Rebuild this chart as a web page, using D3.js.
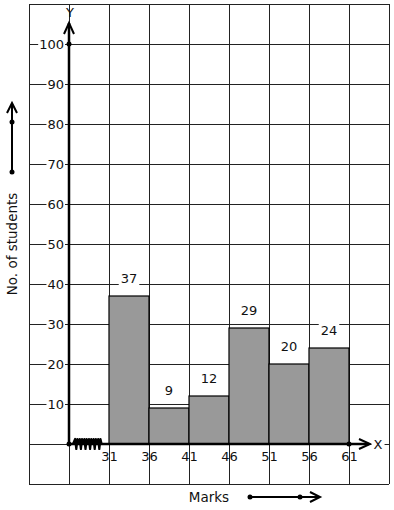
<!DOCTYPE html>
<html><head><meta charset="utf-8">
<script src="https://cdn.jsdelivr.net/npm/d3@7"></script>
<style>body{margin:0;background:#fff}svg{display:block}text{font-family:"DejaVu Sans",sans-serif}</style>
</head><body>
<script>
const classStarts = [31, 36, 41, 46, 51, 56];
const classWidth = 5;
const students = [37, 9, 12, 29, 20, 24];
const xTickValues = [31, 36, 41, 46, 51, 56, 61];
const yTickValues = [10, 20, 30, 40, 50, 60, 70, 80, 90, 100];
const xLabel = "Marks", yLabel = "No. of students";

const W = 394, H = 510;
const svg = d3.select("body").append("svg").attr("width", W).attr("height", H);
const x = d3.scaleLinear().domain([21, 66]).range([29, 389]);
const y = d3.scaleLinear().domain([-10, 110]).range([484, 4]);
const x0 = x(26), y0 = y(0);

// grid
const grid = svg.append("g").attr("stroke", "#222").attr("stroke-width", 1).attr("shape-rendering", "crispEdges");
d3.range(21, 67, 5).forEach(v => grid.append("line").attr("x1", x(v)).attr("x2", x(v)).attr("y1", y(110)).attr("y2", y(-10)));
d3.range(-10, 111, 10).forEach(v => grid.append("line").attr("x1", x(21)).attr("x2", x(66)).attr("y1", y(v)).attr("y2", y(v)));

// bars
svg.append("g").selectAll("rect").data(classStarts).join("rect")
  .attr("x", d => x(d)).attr("width", d => x(d + classWidth) - x(d))
  .attr("y", (d, i) => y(students[i])).attr("height", (d, i) => y(0) - y(students[i]))
  .attr("fill", "#999").attr("stroke", "#000").attr("stroke-width", 1.2);

// bar labels
function labelWithBg(g, tx, ty, txt, anchor, size) {
  const t = g.append("text").attr("x", tx).attr("y", ty).attr("text-anchor", anchor)
    .attr("dominant-baseline", "central").attr("font-size", size).attr("fill", "#111").text(txt);
  const b = t.node().getBBox();
  g.insert("rect", () => t.node()).attr("x", b.x - 2).attr("y", b.y).attr("width", b.width + 4).attr("height", b.height).attr("fill", "#fff");
}
const bl = svg.append("g");
classStarts.forEach((d, i) => labelWithBg(bl, x(d + classWidth / 2), y(students[i]) - 18, students[i], "middle", 13));

// y axis ticks via d3 axis
const yAxis = svg.append("g").attr("transform", `translate(${x0 - 5},0)`)
  .call(d3.axisLeft(y).tickValues(yTickValues).tickSize(0).tickPadding(0));
yAxis.select(".domain").remove();
yAxis.selectAll("text").attr("font-size", 13).attr("font-family", "DejaVu Sans").attr("fill", "#111").each(function () {
  const b = this.getBBox();
  d3.select(this.parentNode).insert("rect", "text").attr("x", b.x - 1).attr("y", b.y + 1).attr("width", b.width + 2).attr("height", b.height - 2).attr("fill", "#fff");
});

// x axis ticks via d3 axis
const xAxis = svg.append("g").attr("transform", `translate(0,${y0 + 8})`)
  .call(d3.axisBottom(x).tickValues(xTickValues).tickSize(0).tickPadding(0));
xAxis.select(".domain").remove();
xAxis.selectAll("text").attr("font-size", 13).attr("font-family", "DejaVu Sans").attr("fill", "#111");

// axes lines
const ax = svg.append("g").attr("stroke", "#000").attr("fill", "none").attr("stroke-width", 2.5);
ax.append("line").attr("x1", x0).attr("x2", x0).attr("y1", y0).attr("y2", 23);
ax.append("path").attr("d", `M${x0 - 5},34 L${x0},23 L${x0 + 5},34`).attr("stroke-width", 2);
ax.append("line").attr("x1", x0).attr("x2", 369).attr("y1", y0).attr("y2", y0);
ax.append("path").attr("d", `M359,${y0 - 5} L370,${y0} L359,${y0 + 5}`).attr("stroke-width", 2);
// zigzag
let zz = `M${x0 + 4},${y0}`;
for (let k = 0; k < 6; k++) {
  const sx = x0 + 5 + k * 4.6;
  zz += ` L${sx + 1.15},${y0 - 5} L${sx + 2.3},${y0 + 5} L${sx + 3.45},${y0 - 5} L${sx + 4.6},${y0}`;
}
ax.append("path").attr("d", zz).attr("stroke-width", 2.2).attr("stroke-linejoin", "round");
svg.append("g").selectAll("circle").data([[x0, y0], [x0, y(100)], [x(61), y0]]).join("circle")
  .attr("cx", d => d[0]).attr("cy", d => d[1]).attr("r", 2.5).attr("fill", "#000");

// axis letters
labelWithBg(svg.append("g"), 378, y0, "X", "middle", 13);
svg.append("text").attr("x", x0 + 1).attr("y", 12).attr("text-anchor", "middle").attr("dominant-baseline", "central").attr("font-size", 13).attr("fill", "#111").text("Y");

// axis titles
svg.append("text").attr("x", 209).attr("y", 497).attr("text-anchor", "middle").attr("dominant-baseline", "central").attr("font-size", 13.5).attr("fill", "#111").text(xLabel);
svg.append("text").attr("transform", "translate(12,244) rotate(-90)").attr("text-anchor", "middle").attr("dominant-baseline", "central").attr("font-size", 13.5).attr("fill", "#111").text(yLabel);

// decorative arrows
const da = svg.append("g").attr("stroke", "#000").attr("fill", "none").attr("stroke-width", 2);
da.append("line").attr("x1", 250).attr("x2", 320).attr("y1", 497).attr("y2", 497);
da.append("path").attr("d", "M310,492 L320,497 L310,502");
da.append("line").attr("x1", 12).attr("x2", 12).attr("y1", 172).attr("y2", 103);
da.append("path").attr("d", "M7,113 L12,103 L17,113");
svg.append("g").selectAll("circle").data([[250, 497], [300, 497], [12, 172], [12, 122]]).join("circle")
  .attr("cx", d => d[0]).attr("cy", d => d[1]).attr("r", 2.5).attr("fill", "#000");
</script>
</body></html>
